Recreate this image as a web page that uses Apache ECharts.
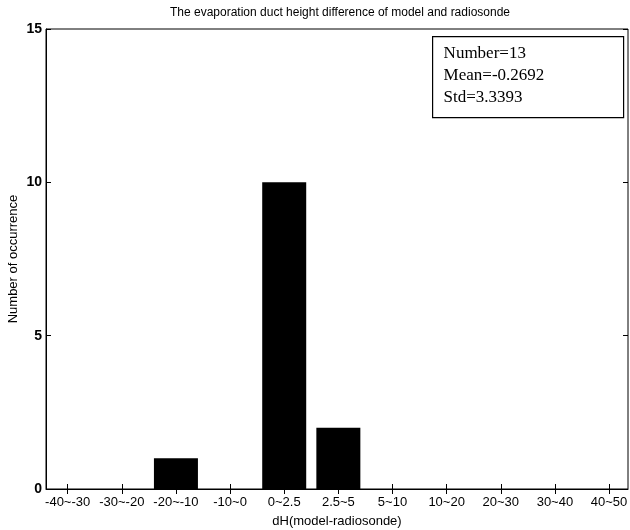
<!DOCTYPE html>
<html>
<head>
<meta charset="utf-8">
<script src="https://cdn.jsdelivr.net/npm/echarts@6/dist/echarts.min.js"></script>
<style>
  html, body { margin: 0; padding: 0; background: #fff; }
  #chart { width: 630px; height: 530px; }
</style>
</head>
<body>
<div id="chart"></div>
<script>
// bins of dH (model - radiosonde)
var categories = ['-40~-30', '-30~-20', '-20~-10', '-10~0', '0~2.5', '2.5~5',
                  '5~10', '10~20', '20~30', '30~40', '40~50'];
var counts = [0, 0, 1, 0, 10, 2, 0, 0, 0, 0, 0];
var yTicks = [0, 5, 10, 15];
var statsLines = ['Number=13', 'Mean=-0.2692', 'Std=3.3393'];

var positions = categories.map(function (c, i) { return i + 1; });
var barData = counts.map(function (v, i) { return [positions[i], v]; });

var chart = echarts.init(document.getElementById('chart'));
var font = 'Liberation Sans, Arial, sans-serif';

chart.setOption({
  animation: false,
  backgroundColor: '#fff',
  title: {
    text: 'The evaporation duct height difference of model and radiosonde',
    left: 335,
    top: 2,
    textAlign: 'center',
    textStyle: { fontFamily: font, fontSize: 12, fontWeight: 'normal', color: '#000' }
  },
  grid: {
    left: 46, right: 2, top: 29, bottom: 41,
    containLabel: false,
    outerBoundsMode: 'none',
    show: true, borderColor: '#000', borderWidth: 1
  },
  xAxis: [{
    type: 'value',
    min: 0.6,
    max: 11.35,
    name: 'dH(model-radiosonde)',
    nameLocation: 'middle',
    nameGap: 26,
    nameMoveOverlap: false,
    nameTextStyle: { fontFamily: font, fontSize: 13, color: '#000' },
    axisLine: { show: true, lineStyle: { color: '#000' } },
    axisTick: { show: true, inside: true, length: 5, customValues: positions, lineStyle: { color: '#000' } },
    axisLabel: {
      customValues: positions,
      margin: 7,
      fontFamily: font, fontSize: 13, color: '#000',
      formatter: function (v) { return categories[Math.round(v) - 1] || ''; }
    },
    splitLine: { show: false }
  }, {
    type: 'value',
    position: 'top',
    min: 0.6,
    max: 11.35,
    axisLine: { show: false },
    axisTick: { show: true, inside: true, length: 5, customValues: positions, lineStyle: { color: '#000' } },
    axisLabel: { show: false },
    splitLine: { show: false }
  }],
  yAxis: [{
    type: 'value',
    min: 0,
    max: 15,
    interval: 5,
    name: 'Number of occurrence',
    nameLocation: 'middle',
    nameGap: 26,
    nameMoveOverlap: false,
    nameTextStyle: { fontFamily: font, fontSize: 13, color: '#000' },
    axisLine: { show: true, lineStyle: { color: '#000' } },
    axisTick: { show: true, inside: true, length: 5, lineStyle: { color: '#000' } },
    axisLabel: {
      margin: 4,
      fontFamily: font, fontSize: 14, fontWeight: 'bold', color: '#000',
      formatter: function (v) { return yTicks.indexOf(v) >= 0 ? String(v) : ''; }
    },
    splitLine: { show: false }
  }, {
    type: 'value',
    position: 'right',
    min: 0,
    max: 15,
    interval: 5,
    axisLine: { show: false },
    axisTick: { show: true, inside: true, length: 5, lineStyle: { color: '#000' } },
    axisLabel: { show: false },
    splitLine: { show: false }
  }],
  series: [{
    type: 'bar',
    xAxisIndex: 0,
    yAxisIndex: 0,
    data: barData,
    barWidth: 44,
    itemStyle: { color: '#000' }
  }],
  graphic: [{
    type: 'group',
    left: 432,
    top: 36,
    children: [{
      type: 'rect',
      shape: { x: 0, y: 0, width: 191, height: 81 },
      style: { fill: '#fff', stroke: '#000', lineWidth: 1.2 }
    }].concat(statsLines.map(function (s, i) {
      return {
        type: 'text',
        x: 11,
        y: 8 + i * 22,
        style: {
          text: s,
          fill: '#000',
          font: '17px "Liberation Serif", "Times New Roman", serif'
        }
      };
    }))
  }]
});
</script>
</body>
</html>
